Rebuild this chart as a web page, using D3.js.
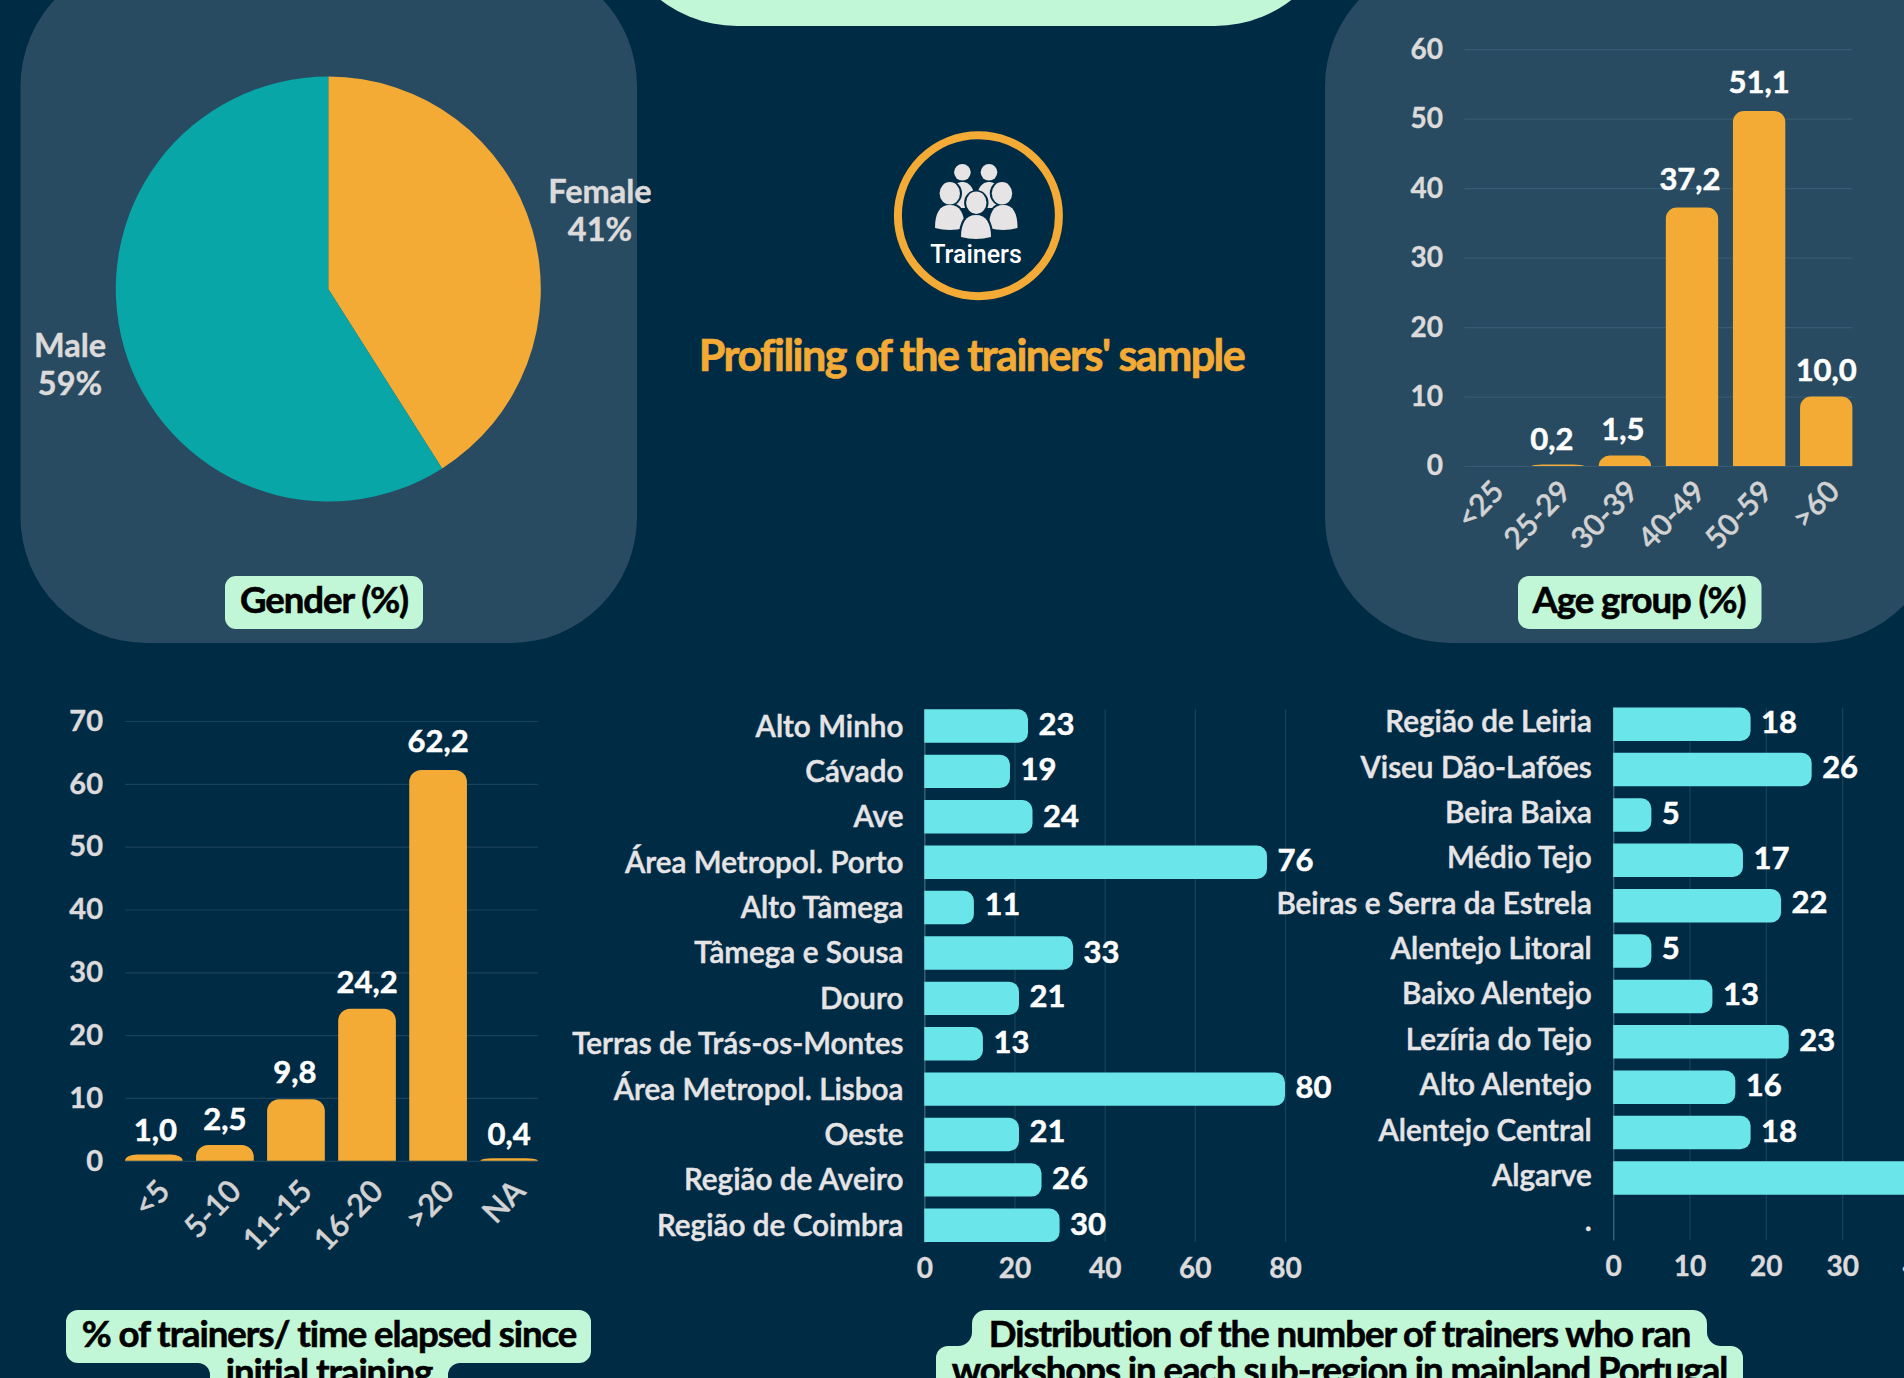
<!DOCTYPE html>
<html>
<head>
<meta charset="utf-8">
<title>Profiling of the trainers' sample</title>
<script src="https://d3js.org/d3.v7.min.js"></script>
<style>
    html, body { margin: 0; padding: 0; background: #002b45; overflow: hidden; }
    svg { display: block; }
    text { font-family: Lato, sans-serif; }
    .pill-text { font-weight: 700; font-size: 36.6px; letter-spacing: -1.05px; fill: #000; stroke: #000; stroke-width: 0.6px; text-anchor: middle; }
    .tick-y text, .tick-x text { fill: #dcdadb; stroke: #dcdadb; stroke-width: 0.4px; font-weight: 700; font-size: 28px; }
    .cat text { fill: #e6e4e5; stroke: #e6e4e5; stroke-width: 0.5px; font-weight: 600; font-size: 29.7px; }
    .value { fill: #fff; stroke: #fff; stroke-width: 0.5px; font-weight: 700; font-size: 31px; }
</style>
</head>
<body>
<script>
// gender pie
var genderLabels = ["Female", "Male"];
var genderValues = [41, 59];

// age group
var ageCats = ["<25", "25-29", "30-39", "40-49", "50-59", ">60"];
var ageValues = [0, 0.2, 1.5, 37.2, 51.1, 10.0];
var ageTicks = [0, 10, 20, 30, 40, 50, 60];
var ageShown = [null, "0,2", "1,5", "37,2", "51,1", "10,0"];

// time since initial training
var timeCats = ["<5", "5-10", "11-15", "16-20", ">20", "NA"];
var timeValues = [1.0, 2.5, 9.8, 24.2, 62.2, 0.4];
var timeTicks = [0, 10, 20, 30, 40, 50, 60, 70];
var timeShown = ["1,0", "2,5", "9,8", "24,2", "62,2", "0,4"];

// sub-regions
var regionsA = ["Alto Minho", "Cávado", "Ave", "Área Metropol. Porto", "Alto Tâmega", "Tâmega e Sousa", "Douro", "Terras de Trás-os-Montes", "Área Metropol. Lisboa", "Oeste", "Região de Aveiro", "Região de Coimbra"];
var valuesA = [23, 19, 24, 76, 11, 33, 21, 13, 80, 21, 26, 30];
var ticksA = [0, 20, 40, 60, 80];

var regionsB = ["Região de Leiria", "Viseu Dão-Lafões", "Beira Baixa", "Médio Tejo", "Beiras e Serra da Estrela", "Alentejo Litoral", "Baixo Alentejo", "Lezíria do Tejo", "Alto Alentejo", "Alentejo Central", "Algarve", "."];
var valuesB = [18, 26, 5, 17, 22, 5, 13, 23, 16, 18, 40, null];
var ticksB = [0, 10, 20, 30, 40];

var ORANGE = "#f4ab36", TEAL = "#08a6a6", CYAN = "#6ae6ea", MINT = "#c1f7d6", PANEL = "#284b61";

var svg = d3.select("body").append("svg").attr("width", 1904).attr("height", 1378);

// background shapes
svg.append("rect").attr("width", 1904).attr("height", 1378).attr("fill", "#002b45");
svg.append("rect").attr("x", 612).attr("y", -300).attr("width", 728).attr("height", 326).attr("rx", 125).attr("fill", MINT);
svg.append("rect").attr("x", 20.5).attr("y", -40).attr("width", 616.5).attr("height", 683).attr("rx", 126).attr("fill", PANEL);
svg.append("rect").attr("x", 1325).attr("y", -40).attr("width", 615).attr("height", 683).attr("rx", 126).attr("fill", PANEL);

function topRounded(x, y, w, h, r) {
    if (h <= 0) return "";
    var ry = Math.min(r, h);
    return "M" + x + "," + (y + h) + "V" + (y + ry) +
        "A" + r + "," + ry + " 0 0 1 " + (x + r) + "," + y +
        "H" + (x + w - r) +
        "A" + r + "," + ry + " 0 0 1 " + (x + w) + "," + (y + ry) +
        "V" + (y + h) + "Z";
}

function rightRounded(x, y, w, h, r) {
    return "M" + x + "," + y + "H" + (x + w - r) +
        "A" + r + "," + r + " 0 0 1 " + (x + w) + "," + (y + r) +
        "V" + (y + h - r) +
        "A" + r + "," + r + " 0 0 1 " + (x + w - r) + "," + (y + h) +
        "H" + x + "Z";
}

function verticalBars(o) {
    var x = d3.scaleBand().domain(o.cats).range(o.xRange).paddingInner(o.pad);
    var y = d3.scaleLinear().domain(o.yDomain).range(o.yRange);
    var g = svg.append("g");

    var yAxis = d3.axisLeft(y).tickValues(o.ticks).tickSize(0).tickPadding(o.xRange[0] - o.tickRight);
    var gy = g.append("g").attr("class", "tick-y").attr("transform", "translate(" + o.xRange[0] + ",0)").call(yAxis);
    gy.select(".domain").remove();
    gy.selectAll("text").style("font-size", o.tickSize + "px");
    gy.selectAll("line")
        .attr("x2", o.xRange[1] - o.xRange[0])
        .attr("stroke", o.grid).attr("stroke-width", 1.2);

    g.selectAll("path.bar").data(o.values).join("path")
        .attr("class", "bar")
        .attr("fill", ORANGE)
        .attr("d", function (d, i) {
            return topRounded(x(o.cats[i]), y(d), x.bandwidth(), y(0) - y(d), o.radius);
        });

    var xAxis = d3.axisBottom(x).tickSize(0);
    var gx = g.append("g").attr("class", "tick-x").attr("transform", "translate(0," + y(0) + ")").call(xAxis);
    gx.select(".domain").remove();
    gx.selectAll("text")
        .attr("text-anchor", "end")
        .attr("dy", 0)
        .attr("y", 0)
        .attr("transform", "translate(" + o.rotX + "," + o.rotY + ") rotate(-46)")
        .style("fill", "#d3d2d3")
        .style("stroke", "#d3d2d3")
        .style("font-weight", 600)
        .style("font-size", o.catSize + "px");

    g.selectAll("text.value").data(o.values).join("text")
        .attr("class", "value")
        .attr("text-anchor", "middle")
        .attr("x", function (d, i) { return x(o.cats[i]) + x.bandwidth() / 2 + o.dx[i]; })
        .attr("y", function (d, i) { return y(d) + o.dy[i]; })
        .text(function (d, i) { return o.shown[i]; });
}

function horizontalBars(o) {
    var x = d3.scaleLinear().domain(o.xDomain).range(o.xRange);
    var y = d3.scaleBand().domain(o.cats).range(o.yRange).paddingInner(o.pad);
    var g = svg.append("g");

    var gx = g.append("g").attr("class", "tick-x")
        .attr("transform", "translate(0," + o.yRange[1] + ")")
        .call(d3.axisBottom(x).tickValues(o.ticks).tickSize(0).tickPadding(o.tickPad));
    gx.select(".domain").remove();
    gx.selectAll("line")
        .attr("y2", o.yRange[0] - o.yRange[1])
        .attr("stroke", "#1a4259").attr("stroke-width", 1.2);
    gx.selectAll("text").attr("dy", 0).attr("y", o.tickPad);

    var gy = g.append("g").attr("class", "cat")
        .attr("transform", "translate(" + x(0) + ",0)")
        .call(d3.axisLeft(y).tickSize(0).tickPadding(x(0) - o.catRight));
    gy.select(".domain").attr("stroke", "#3f6478").attr("stroke-width", 1.2);
    gy.selectAll("text").attr("dy", 0).attr("transform", "translate(0," + o.catDy + ")");

    var rows = o.values.map(function (v, i) { return { cat: o.cats[i], v: v, nudge: o.nudge[i] }; }).filter(function (r) { return r.v !== null; });

    g.selectAll("path.bar").data(rows).join("path")
        .attr("class", "bar")
        .attr("fill", CYAN)
        .attr("d", function (d) {
            return rightRounded(x(0), y(d.cat), x(d.v) - x(0), y.bandwidth(), 10);
        });

    g.selectAll("text.value").data(rows).join("text")
        .attr("class", "value")
        .attr("x", function (d) { return x(d.v) + 10.5; })
        .attr("y", function (d) { return y(d.cat) + y.bandwidth() / 2 + 9 + d.nudge; })
        .text(function (d) { return d.v; });
}

function pillText(lines, cx, baseline, lh) {
    lines.forEach(function (t, i) {
        svg.append("text").attr("class", "pill-text").attr("x", cx).attr("y", baseline + i * lh).text(t);
    });
}

// pie
var pieGroup = svg.append("g").attr("transform", "translate(328.3,289)");
var pie = d3.pie().sort(null);
var arc = d3.arc().innerRadius(0).outerRadius(212.5);
pieGroup.selectAll("path").data(pie(genderValues)).join("path")
    .attr("d", arc)
    .attr("fill", function (d, i) { return i == 0 ? ORANGE : TEAL; });

[[600, 203, 240.5], [70, 357, 394.5]].forEach(function (p, i) {
    var t = svg.append("text").attr("text-anchor", "middle").attr("fill", "#dcdadb")
        .attr("stroke", "#dcdadb").attr("stroke-width", 0.4)
        .style("font-size", "32.5px").style("font-weight", 700);
    t.append("tspan").attr("x", p[0]).attr("y", p[1]).text(genderLabels[i]);
    t.append("tspan").attr("x", p[0]).attr("y", p[2]).text(genderValues[i] + "%");
});

// small pills
svg.append("rect").attr("x", 225).attr("y", 576).attr("width", 198).attr("height", 53).attr("rx", 11).attr("fill", MINT);
pillText(["Gender (%)"], 324, 613, 0);
svg.append("rect").attr("x", 1518).attr("y", 576).attr("width", 243.5).attr("height", 53).attr("rx", 11).attr("fill", MINT);
pillText(["Age group (%)"], 1639, 613, 0);

// two line pills, they run off the bottom of the page
svg.append("path").attr("fill", MINT).attr("d",
    "M78,1310H579A12,12 0 0 1 591,1322V1351A12,12 0 0 1 579,1363H460A12,12 0 0 0 448,1375V1400H210V1375A12,12 0 0 0 198,1363H78A12,12 0 0 1 66,1351V1322A12,12 0 0 1 78,1310Z");
pillText(["% of trainers/ time elapsed since", "initial training"], 329, 1347, 38);

svg.append("path").attr("fill", MINT).attr("d",
    "M986,1310H1693A14,14 0 0 1 1707,1324V1332A14,14 0 0 0 1721,1346H1731A12,12 0 0 1 1743,1358V1400H936V1358A12,12 0 0 1 948,1346H958A14,14 0 0 0 972,1332V1324A14,14 0 0 1 986,1310Z");
pillText(["Distribution of the number of trainers who ran", "workshops in each sub-region in mainland Portugal"], 1339.5, 1347, 36);

// icon
var icon = svg.append("g");
icon.append("circle").attr("cx", 978.4).attr("cy", 215.7).attr("r", 80.5)
    .attr("fill", "none").attr("stroke", ORANGE).attr("stroke-width", 8);
var PERSON = "#e6e4e4", BG = "#002b45";
[[962.4, 172.3, 8.3], [989, 172.3, 8.3]].forEach(function (h) {
    icon.append("circle").attr("cx", h[0]).attr("cy", h[1]).attr("r", h[2]).attr("fill", PERSON);
    icon.append("path").attr("fill", PERSON)
        .attr("d", "M" + (h[0] - 12) + ",208C" + (h[0] - 14) + ",190 " + (h[0] - 8) + ",182 " + h[0] + ",182C" + (h[0] + 8) + ",182 " + (h[0] + 14) + ",190 " + (h[0] + 12) + ",208Z");
});
[[949.8, 193.3, 10.2, 935, 964.5, 205, 230], [1002, 193.3, 10.2, 989, 1017.5, 205, 230], [976.3, 202.7, 10.2, 961, 991, 215, 239]].forEach(function (p) {
    icon.append("ellipse").attr("cx", p[0]).attr("cy", p[1]).attr("rx", p[2] + 2).attr("ry", p[2] + 2.5).attr("fill", BG);
    icon.append("path").attr("fill", BG).attr("stroke", BG).attr("stroke-width", 4)
        .attr("d", bodyPath(p[3], p[4], p[5], p[6]));
    icon.append("ellipse").attr("cx", p[0]).attr("cy", p[1]).attr("rx", p[2]).attr("ry", p[2] + 1).attr("fill", PERSON);
    icon.append("path").attr("fill", PERSON).attr("d", bodyPath(p[3], p[4], p[5], p[6]));
});
function bodyPath(x0, x1, y0, y1) {
    var m = (x0 + x1) / 2;
    return "M" + x0 + "," + (y1 - 2) + "C" + x0 + "," + (y0 + 8) + " " + (m - 10) + "," + y0 + " " + m + "," + y0 +
        "C" + (m + 10) + "," + y0 + " " + x1 + "," + (y0 + 8) + " " + x1 + "," + (y1 - 2) +
        "Q" + m + "," + (y1 + 2) + " " + x0 + "," + (y1 - 2) + "Z";
}
icon.append("text").attr("x", 976).attr("y", 262.5).attr("text-anchor", "middle")
    .attr("fill", "#fff").style("font-family", "Roboto, sans-serif")
    .style("font-size", "25px").style("font-weight", 500).text("Trainers");

// title
svg.append("text").attr("x", 971.5).attr("y", 371).attr("text-anchor", "middle")
    .attr("fill", ORANGE).attr("stroke", ORANGE).attr("stroke-width", 0.7)
    .style("font-size", "43px").style("font-weight", 700).attr("letter-spacing", -1.5)
    .text("Profiling of the trainers' sample");

verticalBars({
    cats: ageCats, values: ageValues, shown: ageShown, ticks: ageTicks,
    xRange: [1464.5, 1852.4], pad: 0.22, yDomain: [0, 60], yRange: [466, 49.2],
    tickRight: 1443, tickSize: 28, catSize: 30, radius: 11, grid: "#365b72",
    rotX: 15, rotY: 27,
    dx: [0, -6, -2, -2, 0, 0], dy: [-15, -15, -16, -17.5, -18, -15.5]
});

verticalBars({
    cats: timeCats, values: timeValues, shown: timeShown, ticks: timeTicks,
    xRange: [125, 538], pad: 0.188, yDomain: [0, 70], yRange: [1160.8, 721],
    tickRight: 103, tickSize: 29, catSize: 31, radius: 12, grid: "#1a4259",
    rotX: 18, rotY: 32,
    dx: [1.5, 0, -1, 0, 0, 0], dy: [-14, -15.5, -16, -15.4, -18, -13.6]
});

horizontalBars({
    cats: regionsA, values: valuesA, ticks: ticksA,
    xDomain: [0, 80], xRange: [924.3, 1285], yRange: [709.3, 1242], pad: 0.264,
    catRight: 903.4, catDy: 10.5, tickPad: 36,
    nudge: [0, 0, 1, 0, -2, 1, 0, 0, 0, -2, 0, 1]
});

horizontalBars({
    cats: regionsB, values: valuesB, ticks: ticksB,
    xDomain: [0, 40], xRange: [1613.2, 1918.5], yRange: [707.5, 1240], pad: 0.264,
    catRight: 1591.8, catDy: 8, tickPad: 36,
    nudge: [0, -1, 0, 0, -2, -1, 0, 0, 0, 0, 0, 0]
});
</script>
</body>
</html>
